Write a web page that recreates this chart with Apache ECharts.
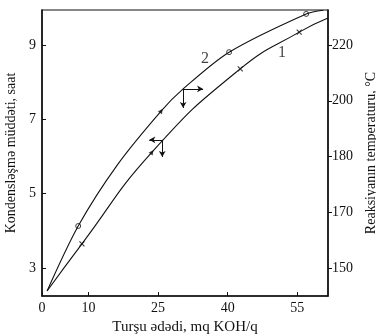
<!DOCTYPE html>
<html><head><meta charset="utf-8">
<script src="https://cdn.jsdelivr.net/npm/echarts@6/dist/echarts.min.js"></script>
<style>html,body{margin:0;padding:0;background:#fff}#c{width:376px;height:335px}</style>
</head><body><div id="c"></div>
<script>
// X: acid number (mg KOH/g); Y: condensation time (h)
const xTicks = [0, 10, 25, 40, 55];
const leftTicks = [3, 5, 7, 9];
const rightTickLabels = ['150', '170', '180', '200', '220'];
const rightTickPos = [0, 1, 2, 3, 4];

// curve 2 (upper)
const curve2X = [1.1, 7.8, 16.2, 25.7, 30.4, 40.3, 56.9, 60.6];
const curve2Y = [2.38, 4.13, 5.77, 7.23, 7.82, 8.81, 9.84, 9.94];
const curve2MarkX = [7.8, 40.3, 56.9];
const curve2MarkY = [4.13, 8.81, 9.84];
const curve2ArrowX = [25.7];
const curve2ArrowY = [7.23];

// curve 1 (lower)
const curve1X = [1.1, 8.6, 23.7, 42.7, 55.4, 61.6];
const curve1Y = [2.38, 3.65, 6.12, 8.36, 9.35, 9.73];
const curve1MarkX = [8.6, 42.7, 55.4];
const curve1MarkY = [3.65, 8.36, 9.35];
const curve1ArrowX = [23.7];
const curve1ArrowY = [6.12];

// annotation arrows [x1,y1,x2,y2]
const arrows = [
  [30.4, 7.82, 34.7, 7.82],
  [30.4, 7.82, 30.4, 7.31],
  [25.9, 6.45, 23.1, 6.45],
  [25.9, 6.45, 25.9, 5.99]
];
const curveLabels = [['2', 35.1, 8.63], ['1', 51.7, 8.79]];

const zip = (a, b) => a.map((v, i) => [v, b[i]]);
const font = 'Liberation Serif';
const chart = echarts.init(document.getElementById('c'));
chart.setOption({
  animation: false,
  grid: { left: 42, right: 48, top: 10, bottom: 39, show: true, borderColor: '#111', borderWidth: 1.2,
    containLabel: false, outerBoundsMode: 'none' },
  xAxis: {
    type: 'value', min: 0, max: 61.6,
    name: 'Turşu ədədi, mq KOH/q', nameLocation: 'middle', nameGap: 20,
    nameTextStyle: { fontFamily: font, fontSize: 15, color: '#111' },
    axisLine: { onZero: false, lineStyle: { color: '#111', width: 1.5 } },
    axisTick: { inside: true, length: 4, customValues: xTicks, lineStyle: { color: '#111' } },
    axisLabel: { customValues: xTicks, fontFamily: font, fontSize: 14, color: '#111', margin: 5 },
    splitLine: { show: false }
  },
  yAxis: [{
    type: 'value', min: 2.246, max: 9.945, position: 'left',
    name: 'Kondensləşmə müddəti, saat', nameLocation: 'middle', nameGap: 19,
    nameTextStyle: { fontFamily: font, fontSize: 14, color: '#111' },
    axisLine: { show: true, onZero: false, lineStyle: { color: '#111', width: 1.5 } },
    axisTick: { show: true, inside: true, length: 4, customValues: leftTicks, lineStyle: { color: '#111' } },
    axisLabel: { customValues: leftTicks, fontFamily: font, fontSize: 14, color: '#111', margin: 6 },
    splitLine: { show: false }
  }, {
    type: 'value', min: -0.502, max: 4.628, position: 'right',
    name: 'Reaksiyanın temperaturu, °C', nameLocation: 'middle', nameGap: 30, nameRotate: 90,
    nameTextStyle: { fontFamily: font, fontSize: 14, color: '#111' },
    axisLine: { show: true, onZero: false, lineStyle: { color: '#111', width: 1.5 } },
    axisTick: { show: true, length: 4, customValues: rightTickPos, lineStyle: { color: '#111' } },
    axisLabel: { customValues: rightTickPos, fontFamily: font, fontSize: 14, color: '#111', margin: 4,
      formatter: v => rightTickLabels[Math.round(v)] },
    splitLine: { show: false }
  }],
  series: [
    { type: 'line', data: zip(curve2X, curve2Y), smooth: 0.3, showSymbol: false, symbol: 'none',
      lineStyle: { color: '#111', width: 1.1 },
      markLine: { silent: true, symbol: ['none', 'arrow'], symbolSize: [5, 6], label: { show: false },
        lineStyle: { color: '#111', width: 1, type: 'solid' },
        data: arrows.map(a => [{ coord: [a[0], a[1]] }, { coord: [a[2], a[3]] }]) } },
    { type: 'line', data: zip(curve1X, curve1Y), smooth: 0.5, showSymbol: false, symbol: 'none',
      lineStyle: { color: '#111', width: 1.1 } },
    { type: 'scatter', data: zip(curve2MarkX, curve2MarkY), symbol: 'circle', symbolSize: 5,
      itemStyle: { color: '#fff', borderColor: '#111', borderWidth: 1 } },
    { type: 'scatter', data: zip(curve1MarkX, curve1MarkY),
      symbol: 'path://M0,0L10,10M10,0L0,10', symbolSize: 5,
      itemStyle: { color: 'none', borderColor: '#111', borderWidth: 1.2 } },
    { type: 'scatter', data: zip(curve2ArrowX, curve2ArrowY).concat(zip(curve1ArrowX, curve1ArrowY)),
      symbol: 'triangle', symbolSize: 5, symbolRotate: -35, itemStyle: { color: '#111' } },
    { type: 'scatter', data: curveLabels.map(l => ({ value: [l[1], l[2]], name: l[0] })),
      symbolSize: 0,
      label: { show: true, position: 'inside', formatter: p => p.name,
        fontFamily: font, fontSize: 16, color: '#111' } }
  ]
});
</script></body></html>
